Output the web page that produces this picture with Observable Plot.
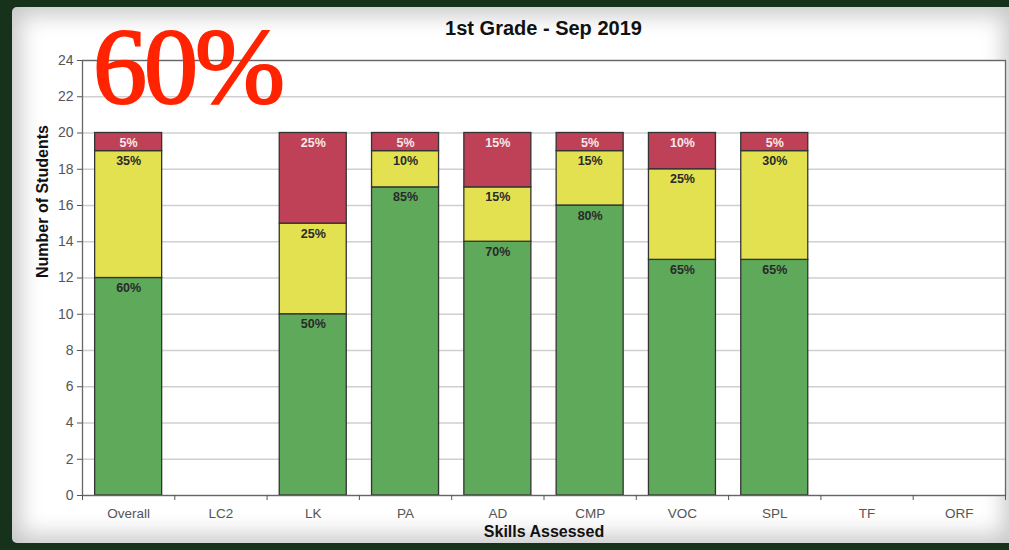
<!DOCTYPE html>
<html>
<head>
<meta charset="utf-8">
<script src="https://cdn.jsdelivr.net/npm/d3@7"></script>
<script src="https://cdn.jsdelivr.net/npm/@observablehq/plot@0.6"></script>
<style>
  html, body { margin: 0; padding: 0; }
  body { width: 1009px; height: 550px; overflow: hidden; background: #16321a; font-family: "Liberation Sans", Arial, sans-serif; }
  #wrap { position: relative; width: 1009px; height: 550px; }
  #paper { position: absolute; left: 12px; top: 7px; width: 1000px; height: 536px; background: #fff;
           box-shadow: inset 0 0 22px 8px rgba(0,0,0,0.22); border-radius: 5px 0 0 5px; }
  #title { position: absolute; left: 82px; width: 923px; top: 18px; text-align: center; font: bold 20px/20px "Liberation Sans", Arial, sans-serif; color: #111; }
  #big { position: absolute; left: 93px; top: 13px; font: 108px/108px "Liberation Serif", "Times New Roman", serif; color: #ff2300;
         letter-spacing: -3px; -webkit-text-stroke: 2.2px #ff2300; }
  #chart { position: absolute; left: 0; top: 0; }
</style>
</head>
<body>
<div id="wrap">
  <div id="paper"></div>
  <div id="chart"></div>
  <div id="title">1st Grade - Sep 2019</div>
  <div id="big">60%</div>
</div>
<script>
const categories = ["Overall", "LC2", "LK", "PA", "AD", "CMP", "VOC", "SPL", "TF", "ORF"];
const greenCounts  = [12, null, 10, 17, 14, 16, 13, 13, null, null];
const yellowCounts = [7,  null, 5,  2,  3,  3,  5,  6,  null, null];
const redCounts    = [1,  null, 5,  1,  3,  1,  2,  1,  null, null];
const seriesNames  = ["At benchmark", "Strategic", "Intensive"];
const seriesColors = ["#5ea95a", "#e3e150", "#bf4157"];
const yTicks = [0, 2, 4, 6, 8, 10, 12, 14, 16, 18, 20, 22, 24];

const seriesCounts = [greenCounts, yellowCounts, redCounts];
const rows = [];
categories.forEach((c, i) => {
  const total = seriesCounts.reduce((s, arr) => s + (arr[i] || 0), 0);
  let cum = 0;
  seriesCounts.forEach((arr, k) => {
    const v = arr[i];
    if (v == null) return;
    rows.push({i, cat: c, series: seriesNames[k], k, y1: cum, y2: cum + v, pct: Math.round(v / total * 100)});
    cum += v;
  });
});
const boundaries = categories.map((_, i) => i - 0.5).concat([categories.length - 0.5]);
const half = 0.363;

const plot = Plot.plot({
  width: 1009,
  height: 550,
  marginLeft: 82,
  marginRight: 4,
  marginTop: 60,
  marginBottom: 55,
  style: {background: "transparent", fontFamily: "'Liberation Sans', Arial, sans-serif"},
  x: {type: "linear", domain: [-0.5, categories.length - 0.5]},
  y: {domain: [0, 24]},
  color: {domain: seriesNames, range: seriesColors},
  marks: [
    Plot.frame({fill: "white", stroke: null}),
    Plot.gridY(yTicks, {stroke: "#cfcfcf", strokeOpacity: 1, strokeWidth: 1.5}),
    Plot.rect(rows, {x1: d => d.i - half, x2: d => d.i + half, y1: "y1", y2: "y2", fill: "series", stroke: "#333", strokeWidth: 1.3}),
    Plot.text(rows, {x: "i", y: "y2", dy: 10, text: d => d.pct + "%", fill: d => d.k === 2 ? "#f4e8ea" : "#2a2a2a", fontWeight: "bold", fontSize: 12.5}),
    Plot.frame({stroke: "#666", strokeWidth: 1.3}),
    Plot.axisY({ticks: yTicks, tickSize: 5, tickPadding: 4, fontSize: 14, color: "#555", label: null}),
    Plot.axisX({ticks: categories.map((_, i) => i), tickFormat: i => categories[i], tickSize: 0, tickPadding: 13, fontSize: 13.5, color: "#555", label: null}),
    Plot.axisX({ticks: boundaries, tickFormat: () => "", tickSize: 5, color: "#555", label: null}),
    Plot.text(["Skills Assessed"], {frameAnchor: "bottom", dy: 41, fontWeight: "bold", fontSize: 16, fill: "#111"}),
    Plot.text(["Number of Students"], {frameAnchor: "left", dx: -40, rotate: -90, fontWeight: "bold", fontSize: 16, fill: "#111"})
  ]
});
document.getElementById("chart").appendChild(plot);
</script>
</body>
</html>
